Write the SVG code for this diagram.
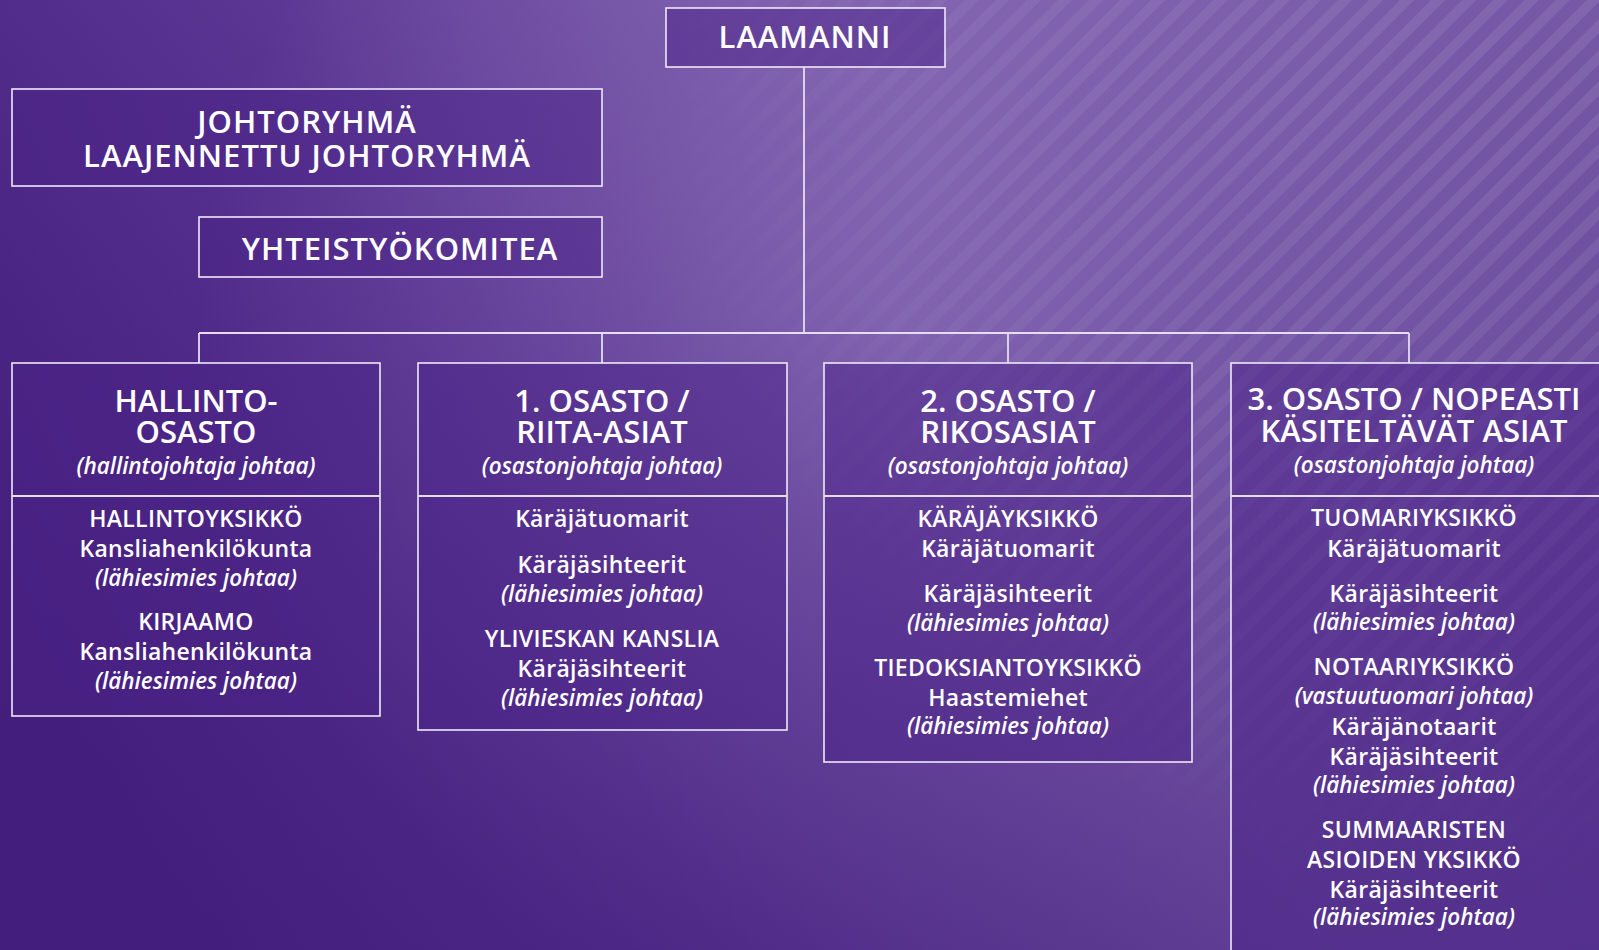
<svg xmlns="http://www.w3.org/2000/svg" width="1599" height="950" viewBox="0 0 1599 950">
<defs>
<linearGradient id="bg" x1="0" y1="0.6" x2="1" y2="0.3">
<stop offset="0" stop-color="#47217f"/>
<stop offset="0.3" stop-color="#5a3592"/>
<stop offset="0.65" stop-color="#7d5fac"/>
<stop offset="1" stop-color="#7658a6"/>
</linearGradient>
<radialGradient id="glow" cx="900" cy="330" r="700" gradientUnits="userSpaceOnUse">
<stop offset="0" stop-color="#9478c0" stop-opacity="0.75"/>
<stop offset="0.5" stop-color="#8a6cb8" stop-opacity="0.35"/>
<stop offset="1" stop-color="#8a6cb8" stop-opacity="0"/>
</radialGradient>
<linearGradient id="dark" x1="0" y1="0" x2="0" y2="1">
<stop offset="0" stop-color="#3e1a78" stop-opacity="0"/>
<stop offset="1" stop-color="#3e1a78" stop-opacity="0.45"/>
</linearGradient>
<pattern id="stripes" width="22" height="22" patternUnits="userSpaceOnUse" patternTransform="rotate(-45)">
<rect width="22" height="10" fill="#ffffff" fill-opacity="0.09"/>
</pattern>
<radialGradient id="stripeFade" cx="1500" cy="60" r="850" gradientUnits="userSpaceOnUse">
<stop offset="0" stop-color="#fff" stop-opacity="1"/>
<stop offset="0.6" stop-color="#fff" stop-opacity="0.6"/>
<stop offset="1" stop-color="#fff" stop-opacity="0"/>
</radialGradient>
<mask id="stripeMask">
<rect width="1599" height="950" fill="url(#stripeFade)"/>
</mask>
</defs>
<style>
.box{fill:#4a2188;fill-opacity:0.5;stroke:#efe8f7;stroke-width:1.6}
.ln{stroke:#e6ddf2;stroke-width:1.8;fill:none}
text{font-family:"Open Sans","Noto Sans","DejaVu Sans",sans-serif;fill:#ffffff;text-anchor:middle}
.top{font-size:31px;font-weight:600;letter-spacing:1px}
.hd{font-size:31px;font-weight:600}
.it{font-size:22.5px;font-style:italic;font-weight:600}
.bd{font-size:23px;font-weight:600;letter-spacing:0.3px}
</style>
<rect width="1599" height="950" fill="url(#bg)"/>
<rect width="1599" height="950" fill="url(#glow)"/>
<rect width="1599" height="950" fill="url(#dark)"/>
<rect width="1599" height="950" fill="url(#stripes)" mask="url(#stripeMask)"/>

<g id="connectors">
<line class="ln" x1="804" y1="67" x2="804" y2="333"/>
<line class="ln" x1="199" y1="333" x2="1409" y2="333"/>
<line class="ln" x1="199" y1="333" x2="199" y2="363"/>
<line class="ln" x1="602" y1="333" x2="602" y2="363"/>
<line class="ln" x1="1008" y1="333" x2="1008" y2="363"/>
<line class="ln" x1="1409" y1="333" x2="1409" y2="363"/>
</g>

<g id="laamanni">
<rect class="box" x="666" y="8" width="279" height="59"/>
<text class="top" x="805" y="48">LAAMANNI</text>
</g>

<g id="johtoryhma">
<rect class="box" x="12" y="89" width="590" height="97"/>
<text class="top" x="307" y="133">JOHTORYHMÄ</text>
<text class="top" x="307" y="167">LAAJENNETTU JOHTORYHMÄ</text>
</g>

<g id="yhteistyokomitea">
<rect class="box" x="199" y="217" width="403" height="60"/>
<text class="top" x="400" y="260">YHTEISTYÖKOMITEA</text>
</g>

<g id="hallinto-osasto">
<rect class="box" x="12" y="363" width="368" height="353"/>
<line class="ln" x1="12" y1="496" x2="380" y2="496"/>
<text class="hd" x="196" y="412">HALLINTO-</text>
<text class="hd" x="196" y="443">OSASTO</text>
<text class="it" x="196" y="474">(hallintojohtaja johtaa)</text>
<text class="bd" x="196" y="527">HALLINTOYKSIKKÖ</text>
<text class="bd" x="196" y="557">Kansliahenkilökunta</text>
<text class="it" x="196" y="586">(lähiesimies johtaa)</text>
<text class="bd" x="196" y="630">KIRJAAMO</text>
<text class="bd" x="196" y="660">Kansliahenkilökunta</text>
<text class="it" x="196" y="689">(lähiesimies johtaa)</text>
</g>

<g id="osasto1">
<rect class="box" x="418" y="363" width="369" height="367"/>
<line class="ln" x1="418" y1="496" x2="787" y2="496"/>
<text class="hd" x="602" y="412">1. OSASTO /</text>
<text class="hd" x="602" y="443">RIITA-ASIAT</text>
<text class="it" x="602" y="474">(osastonjohtaja johtaa)</text>
<text class="bd" x="602" y="527">Käräjätuomarit</text>
<text class="bd" x="602" y="573">Käräjäsihteerit</text>
<text class="it" x="602" y="602">(lähiesimies johtaa)</text>
<text class="bd" x="602" y="647">YLIVIESKAN KANSLIA</text>
<text class="bd" x="602" y="677">Käräjäsihteerit</text>
<text class="it" x="602" y="706">(lähiesimies johtaa)</text>
</g>

<g id="osasto2">
<rect class="box" x="824" y="363" width="368" height="399"/>
<line class="ln" x1="824" y1="496" x2="1192" y2="496"/>
<text class="hd" x="1008" y="412">2. OSASTO /</text>
<text class="hd" x="1008" y="443">RIKOSASIAT</text>
<text class="it" x="1008" y="474">(osastonjohtaja johtaa)</text>
<text class="bd" x="1008" y="527">KÄRÄJÄYKSIKKÖ</text>
<text class="bd" x="1008" y="557">Käräjätuomarit</text>
<text class="bd" x="1008" y="602">Käräjäsihteerit</text>
<text class="it" x="1008" y="631">(lähiesimies johtaa)</text>
<text class="bd" x="1008" y="676">TIEDOKSIANTOYKSIKKÖ</text>
<text class="bd" x="1008" y="706">Haastemiehet</text>
<text class="it" x="1008" y="734">(lähiesimies johtaa)</text>
</g>

<g id="osasto3">
<rect class="box" x="1231" y="363" width="400" height="640"/>
<line class="ln" x1="1231" y1="496" x2="1599" y2="496"/>
<text class="hd" x="1414" y="410">3. OSASTO / NOPEASTI</text>
<text class="hd" x="1414" y="442">KÄSITELTÄVÄT ASIAT</text>
<text class="it" x="1414" y="473">(osastonjohtaja johtaa)</text>
<text class="bd" x="1414" y="526">TUOMARIYKSIKKÖ</text>
<text class="bd" x="1414" y="557">Käräjätuomarit</text>
<text class="bd" x="1414" y="602">Käräjäsihteerit</text>
<text class="it" x="1414" y="630">(lähiesimies johtaa)</text>
<text class="bd" x="1414" y="675">NOTAARIYKSIKKÖ</text>
<text class="it" x="1414" y="704">(vastuutuomari johtaa)</text>
<text class="bd" x="1414" y="735">Käräjänotaarit</text>
<text class="bd" x="1414" y="765">Käräjäsihteerit</text>
<text class="it" x="1414" y="793">(lähiesimies johtaa)</text>
<text class="bd" x="1414" y="838">SUMMAARISTEN</text>
<text class="bd" x="1414" y="868">ASIOIDEN YKSIKKÖ</text>
<text class="bd" x="1414" y="898">Käräjäsihteerit</text>
<text class="it" x="1414" y="925">(lähiesimies johtaa)</text>
</g>
</svg>
